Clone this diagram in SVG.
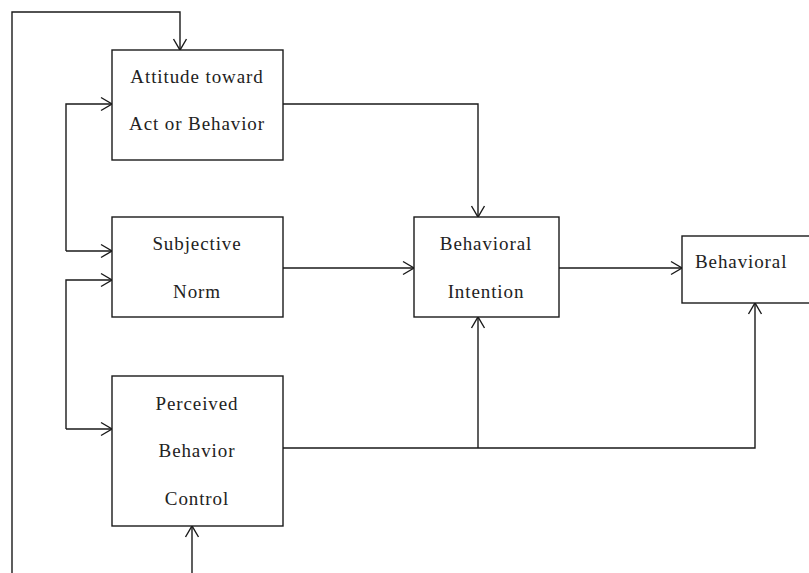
<svg xmlns="http://www.w3.org/2000/svg" width="809" height="573" viewBox="0 0 809 573">
<defs>
<style>
.box{fill:#fff;stroke:#1a1a1a;stroke-width:1.4}
.ln{fill:none;stroke:#1a1a1a;stroke-width:1.4}
.t{font-family:"Liberation Serif","Times New Roman",serif;font-size:19px;fill:#222;letter-spacing:0.9px;text-anchor:middle}
</style>
<marker id="ah" markerWidth="16" markerHeight="16" refX="12" refY="8" orient="auto" markerUnits="userSpaceOnUse">
<path d="M1,1.5 L12,8 L1,14.5" fill="none" stroke="#1a1a1a" stroke-width="1.4"/>
</marker>
</defs>
<rect width="809" height="573" fill="#fff"/>
<g id="connectors">
<path class="ln" d="M12,573 V12 H180 V50" marker-end="url(#ah)"/>
<path class="ln" d="M192,573 V526" marker-end="url(#ah)"/>
<path class="ln" d="M66,251 V104 H112" marker-end="url(#ah)"/>
<path class="ln" d="M66,251 H112" marker-end="url(#ah)"/>
<path class="ln" d="M66,429 V280 H112" marker-end="url(#ah)"/>
<path class="ln" d="M66,429 H112" marker-end="url(#ah)"/>
<path class="ln" d="M283,104 H478 V217" marker-end="url(#ah)"/>
<path class="ln" d="M283,268 H414" marker-end="url(#ah)"/>
<path class="ln" d="M559,268 H682" marker-end="url(#ah)"/>
<path class="ln" d="M283,448 H755 V303" marker-end="url(#ah)"/>
<path class="ln" d="M478,448 V317" marker-end="url(#ah)"/>
</g>
<g id="attitude">
<rect class="box" x="112" y="50" width="171" height="110"/>
<text class="t" x="197" y="83">Attitude toward</text>
<text class="t" x="197" y="130">Act or Behavior</text>
</g>
<g id="subjective">
<rect class="box" x="112" y="217" width="171" height="100"/>
<text class="t" x="197" y="250">Subjective</text>
<text class="t" x="197" y="298">Norm</text>
</g>
<g id="perceived">
<rect class="box" x="112" y="376" width="171" height="150"/>
<text class="t" x="197" y="410">Perceived</text>
<text class="t" x="197" y="457">Behavior</text>
<text class="t" x="197" y="505">Control</text>
</g>
<g id="intention">
<rect class="box" x="414" y="217" width="145" height="100"/>
<text class="t" x="486" y="250">Behavioral</text>
<text class="t" x="486" y="298">Intention</text>
</g>
<g id="behavioral">
<rect class="box" x="682" y="236" width="140" height="67"/>
<text class="t" x="695" y="268" style="text-anchor:start">Behavioral</text>
</g>
</svg>
